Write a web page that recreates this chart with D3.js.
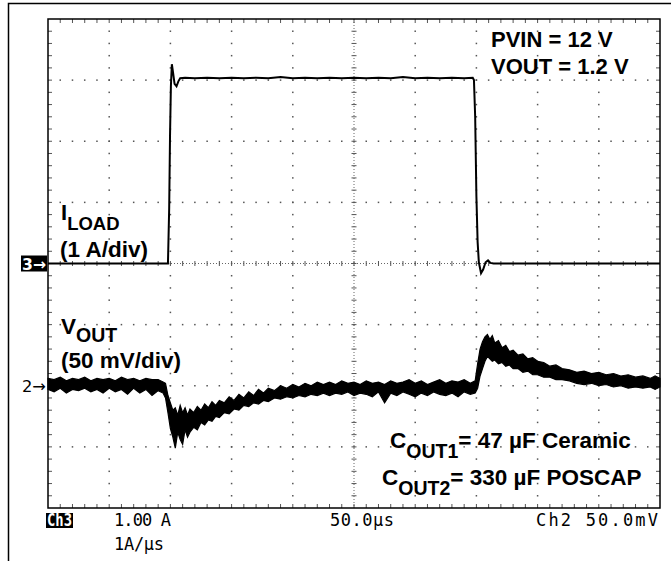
<!DOCTYPE html>
<html><head><meta charset="utf-8">
<script src="https://cdn.jsdelivr.net/npm/d3@7"></script>
<style>body{margin:0;background:#fff}svg{display:block}</style>
</head><body>
<script>
// ---------- DATA ----------
// time axis: µs relative to screen centre, 50 µs/div
const xDivTicks = [-250,-200,-150,-100,-50,0,50,100,150,200,250];
// ILOAD trace (A), 1 A/div, channel 3 marker = 0 A
const iloadT = [-250,-200,-160,-152,-151,-150.3,-149.6,-148.8,-147.8,-146.6,-145,-143.5,-142,-138,-130,-120,-110,-100,-90,-80,-70,-60,-50,-40,-30,-20,-10,0,10,20,30,40,50,60,70,80,90,97,98,99,100,101,102,103.8,105.5,107.5,109.5,111.5,114,130,160,200,250];
const iloadA = [0,0,0,0,0.9,2.1,2.9,3.26,3.12,2.94,2.9,2.98,3.03,3.04,3.03,3.04,3.03,3.04,3.03,3.04,3.03,3.05,3.03,3.04,3.03,3.04,3.03,3.04,3.03,3.04,3.03,3.05,3.03,3.04,3.03,3.04,3.03,3.04,3.0,2.4,1.1,0.35,0.02,-0.16,-0.1,0.02,0.05,0.01,0,0,0,0,0];
// VOUT trace (mV), 50 mV/div, channel 2 marker = 0 mV; upper / lower edge of noisy band
const voutT  = [-250,-245,-240,-235,-230,-225,-220,-215,-210,-205,-200,-195,-190,-185,-180,-175,-170,-165,-160,-156,-154,-152,-150,-148,-146,-144,-142,-140,-138,-136,-134,-131,-128,-125,-122,-119,-116,-113,-110,-106,-102,-98,-94,-90,-86,-82,-78,-74,-70,-65,-60,-55,-50,-45,-40,-35,-30,-25,-20,-15,-10,-5,0,5,10,15,20,25,30,35,40,45,50,55,60,65,70,75,80,85,90,95,99,101,103,105,107,109,111,113,115,118,121,124,127,130,134,138,142,146,150,155,160,165,170,176,182,188,194,200,206,212,218,224,230,236,242,246,250];
const voutHi = [6,5,7,4,6,5,7,4,6,5,6,4,7,5,6,4,6,5,5,3,2,-8,-14,-20,-18,-24,-16,-22,-18,-24,-19,-22,-17,-20,-15,-18,-13,-16,-12,-14,-9,-12,-7,-10,-5,-8,-3,-6,-2,-4,0,-2,1,-1,2,0,3,1,3,1,4,2,3,1,4,2,3,1,4,2,3,5,2,4,1,3,5,2,4,3,5,2,4,18,30,36,40,42,38,41,35,37,31,33,28,29,25,26,22,23,20,19,16,17,14,13,11,12,10,11,9,10,8,9,7,8,6,8,6];
const voutLo = [-3,-5,-2,-6,-3,-4,-2,-5,-3,-6,-2,-5,-3,-7,-2,-6,-3,-8,-4,-6,-10,-22,-35,-42,-51,-38,-44,-48,-36,-42,-38,-34,-36,-30,-32,-28,-29,-25,-26,-22,-23,-19,-20,-16,-17,-14,-15,-12,-13,-10,-11,-9,-10,-8,-9,-7,-8,-6,-8,-6,-7,-5,-8,-6,-7,-9,-5,-14,-6,-8,-5,-7,-9,-6,-8,-5,-7,-8,-6,-9,-5,-7,-6,-2,8,14,20,24,22,20,21,18,19,16,17,14,14,11,12,9,9,7,7,5,5,4,2,1,2,0,1,-1,0,-2,-1,-2,-1,-3,-1];
const annot1 = ["PVIN = 12 V", "VOUT = 1.2 V"];
const scopeLabels = {ch3:"Ch3", ch3scale:"1.00 A", slew:"1A/µs", time:"50.0µs", ch2:"Ch2  50.0mV"};

// ---------- LAYOUT ----------
const W = 671, H = 561;
const L = 48, R = 660, T = 19, B = 508;
const svg = d3.select("body").append("svg").attr("width", W).attr("height", H)
  .style("font-family", "'Liberation Sans', Arial, sans-serif");

const x = d3.scaleLinear().domain([-250, 250]).range([L, R]);
const divY = d3.scaleLinear().domain([0, 8]).range([T, B]);
const yI = d3.scaleLinear().domain([-4, 4]).range([B, T]);      // A
const yV = d3.scaleLinear().domain([-100, 300]).range([B, T]);  // mV
const dx = (R - L) / 50, dy = (B - T) / 40;

// outer frame
svg.append("path").attr("d", `M8.5,${H}V3.5H${W}`).attr("fill", "none").attr("stroke", "#000").attr("stroke-width", 1.5);

const g = svg.append("g");
// grid dots on major lines
xDivTicks.slice(1, -1).forEach(t => {
  if (t === 0) return;
  for (let j = 1; j < 40; j++) g.append("rect").attr("x", x(t) - 0.75).attr("y", T + j * dy - 0.75).attr("width", 1.5).attr("height", 1.5).attr("fill", "#555");
});
d3.range(1, 8).forEach(k => {
  if (k === 4) return;
  for (let j = 1; j < 50; j++) g.append("rect").attr("x", L + j * dx - 0.75).attr("y", divY(k) - 0.75).attr("width", 1.5).attr("height", 1.5).attr("fill", "#555");
});
// centre crosshair
g.append("line").attr("x1", L).attr("x2", R).attr("y1", divY(4)).attr("y2", divY(4)).attr("stroke", "#666").attr("stroke-dasharray", "1,2");
g.append("line").attr("x1", x(0)).attr("x2", x(0)).attr("y1", T).attr("y2", B).attr("stroke", "#666").attr("stroke-dasharray", "1,2");
for (let j = 1; j < 50; j++) g.append("line").attr("x1", L + j * dx).attr("x2", L + j * dx).attr("y1", divY(4) - 2.5).attr("y2", divY(4) + 2.5).attr("stroke", "#555");
for (let j = 1; j < 40; j++) g.append("line").attr("y1", T + j * dy).attr("y2", T + j * dy).attr("x1", x(0) - 2.5).attr("x2", x(0) + 2.5).attr("stroke", "#555");
// border ticks
for (let j = 1; j < 50; j++) {
  g.append("line").attr("x1", L + j * dx).attr("x2", L + j * dx).attr("y1", T).attr("y2", T + 4).attr("stroke", "#555");
  g.append("line").attr("x1", L + j * dx).attr("x2", L + j * dx).attr("y1", B - 4).attr("y2", B).attr("stroke", "#555");
}
for (let j = 1; j < 40; j++) {
  g.append("line").attr("y1", T + j * dy).attr("y2", T + j * dy).attr("x1", L).attr("x2", L + 4).attr("stroke", "#555");
  g.append("line").attr("y1", T + j * dy).attr("y2", T + j * dy).attr("x1", R - 4).attr("x2", R).attr("stroke", "#555");
}
// plot frame
svg.append("rect").attr("x", L).attr("y", T).attr("width", R - L).attr("height", B - T)
  .attr("fill", "none").attr("stroke", "#000").attr("stroke-width", 1.5);

// ILOAD trace
const iData = iloadT.map((t, i) => [t, iloadA[i]]);
svg.append("path").datum(iData)
  .attr("d", d3.line().x(d => x(d[0])).y(d => yI(d[1])))
  .attr("fill", "none").attr("stroke", "#000").attr("stroke-width", 2);

// VOUT trace (noisy band)
const vData = voutT.map((t, i) => ({t, hi: voutHi[i], lo: voutLo[i]}));
svg.append("path").datum(vData)
  .attr("d", d3.area().x(d => x(d.t)).y0(d => yV(d.lo)).y1(d => yV(d.hi)))
  .attr("fill", "#000").attr("stroke", "#000").attr("stroke-width", 1.2);

// channel markers
svg.append("rect").attr("x", 21).attr("y", divY(4) - 8).attr("width", 26).attr("height", 16).attr("fill", "#000");
svg.append("text").attr("x", 22).attr("y", divY(4) + 6).attr("fill", "#fff").attr("font-size", 16).attr("font-weight", "bold")
  .attr("font-family", "'DejaVu Sans', sans-serif").attr("textLength", 24).attr("lengthAdjust", "spacingAndGlyphs").text("3→");
svg.append("text").attr("x", 22).attr("y", yV(0) + 6).attr("fill", "#000").attr("font-size", 16)
  .attr("font-family", "'DejaVu Sans', sans-serif").attr("textLength", 24).attr("lengthAdjust", "spacingAndGlyphs").text("2→");

// annotations
const ann = svg.append("g").attr("font-weight", "bold").attr("fill", "#000");
ann.append("text").attr("x", 491).attr("y", 47).attr("font-size", 22).text(annot1[0]);
ann.append("text").attr("x", 491).attr("y", 74).attr("font-size", 22).text(annot1[1]);

const t1 = ann.append("text").attr("x", 61).attr("y", 220).attr("font-size", 22);
t1.append("tspan").text("I");
t1.append("tspan").attr("font-size", 18.5).attr("dy", 10).text("LOAD");
ann.append("text").attr("x", 60).attr("y", 257).attr("font-size", 22.5).text("(1 A/div)");

const t2 = ann.append("text").attr("x", 61).attr("y", 334).attr("font-size", 22.5);
t2.append("tspan").text("V");
t2.append("tspan").attr("font-size", 19.5).attr("dy", 8).text("OUT");
ann.append("text").attr("x", 61).attr("y", 368).attr("font-size", 22.5).text("(50 mV/div)");

const t3 = ann.append("text").attr("x", 390).attr("y", 448).attr("font-size", 22.5);
t3.append("tspan").text("C");
t3.append("tspan").attr("font-size", 19.5).attr("dy", 10).text("OUT1");
t3.append("tspan").attr("dy", -10).text("= 47 µF Ceramic");
const t4 = ann.append("text").attr("x", 382).attr("y", 485).attr("font-size", 22.5);
t4.append("tspan").text("C");
t4.append("tspan").attr("font-size", 19.5).attr("dy", 10).text("OUT2");
t4.append("tspan").attr("dy", -10).text("= 330 µF POSCAP");

// scope readout
const ro = svg.append("g").attr("font-family", "'DejaVu Sans Mono', monospace").attr("font-size", 17).attr("fill", "#000");
ro.append("rect").attr("x", 46).attr("y", 513).attr("width", 27).attr("height", 15).attr("fill", "#000");
ro.append("text").attr("x", 47).attr("y", 526).attr("fill", "#fff").attr("font-weight", "bold").attr("textLength", 25).attr("lengthAdjust", "spacingAndGlyphs").text(scopeLabels.ch3);
ro.append("text").attr("x", 114).attr("y", 526).attr("textLength", 57).text(scopeLabels.ch3scale);
ro.append("text").attr("x", 114).attr("y", 550).attr("textLength", 50).text(scopeLabels.slew);
ro.append("text").attr("x", 330).attr("y", 526).attr("textLength", 64).text(scopeLabels.time);
ro.append("text").attr("x", 536).attr("y", 526).attr("textLength", 122).text(scopeLabels.ch2);
</script>
</body></html>
